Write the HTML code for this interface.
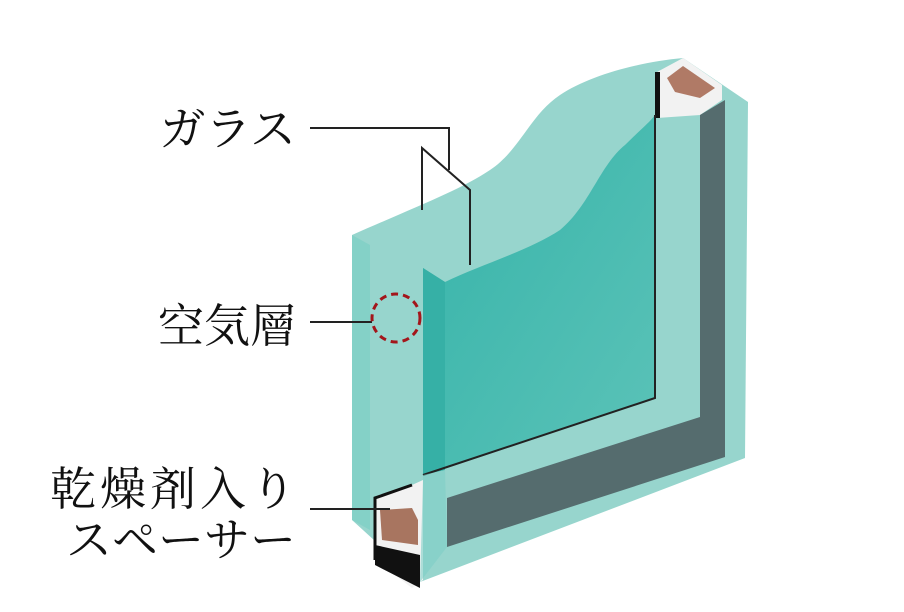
<!DOCTYPE html>
<html><head><meta charset="utf-8"><style>
html,body{margin:0;padding:0;background:#fff;}
svg{display:block}
text{font-family:"Liberation Serif","Noto Serif CJK SC",serif;font-size:46px;fill:#111;}
</style></head><body>
<svg width="904" height="612" viewBox="0 0 904 612" xmlns="http://www.w3.org/2000/svg">
<defs>
<linearGradient id="fg" x1="0" y1="0" x2="1" y2="1">
<stop offset="0" stop-color="#35b3a9"/><stop offset="1" stop-color="#5cc3b8"/>
</linearGradient>
</defs>
<path d="M352,235 L352,520 L420,582 L745,458 L748,102 L683,58 C640,62 590,75 560,95 C530,115 520,150 490,170 C460,190 420,205 352,235 Z" fill="#97d5cd"/>
<polygon points="657,72 683,58 722,85 722,100 700,115 657,118" fill="#f2f2f2"/>
<polygon points="667,78 683,66 715,88 700,98 675,92" fill="#b07a66"/>
<polygon points="655,72 660,72 660,118 655,118" fill="#111"/>
<polygon points="700,115 725,100 725,457 447,547 447,498 700,417" fill="#556c6e"/>
<path d="M423,268 L445,282 C480,265 530,250 560,230 C590,205 600,165 625,145 C640,130 650,122 655,115 L655,398 L423,475 Z" fill="url(#fg)"/>
<path d="M423,268 L445,282 L445,470 L423,475 Z" fill="#36b0a6"/>
<path d="M352,235 L370,245 L370,530 L352,520 Z" fill="#7fcfc6" opacity="0.8"/>
<polyline points="655,115 655,398 423,475" fill="none" stroke="#222" stroke-width="2"/>
<polygon points="375,498 412,485 423,480 423,580 412,588 375,560" fill="#f2f2f2"/>
<polygon points="380,510 412,508 418,520 418,545 382,540" fill="#a87560"/>
<polygon points="375,545 420,555 420,588 375,565" fill="#111"/>
<polyline points="375,560 375,498 412,485" fill="none" stroke="#111" stroke-width="3"/>
<polygon points="423,475 445,470 447,547 420,582 423,480" fill="#7fcfc6" opacity="0.6"/>
<g stroke="#222" stroke-width="2" fill="none">
<polyline points="310,128 449,128 449,170"/>
<polyline points="422,210 422,148 470,190 470,265"/>
<line x1="310" y1="322" x2="372" y2="322"/>
<line x1="310" y1="509" x2="390" y2="509"/>
</g>
<circle cx="396" cy="318" r="24" fill="none" stroke="#a3161b" stroke-width="3" stroke-dasharray="7,5"/>
<text x="296" y="145" text-anchor="end">ガラス</text>
<text x="296" y="342" text-anchor="end">空気層</text>
<text x="296" y="505" text-anchor="end" textLength="246">乾燥剤入り</text>
<text x="296" y="556" text-anchor="end" textLength="230">スペーサー</text>
</svg>
</body></html>
